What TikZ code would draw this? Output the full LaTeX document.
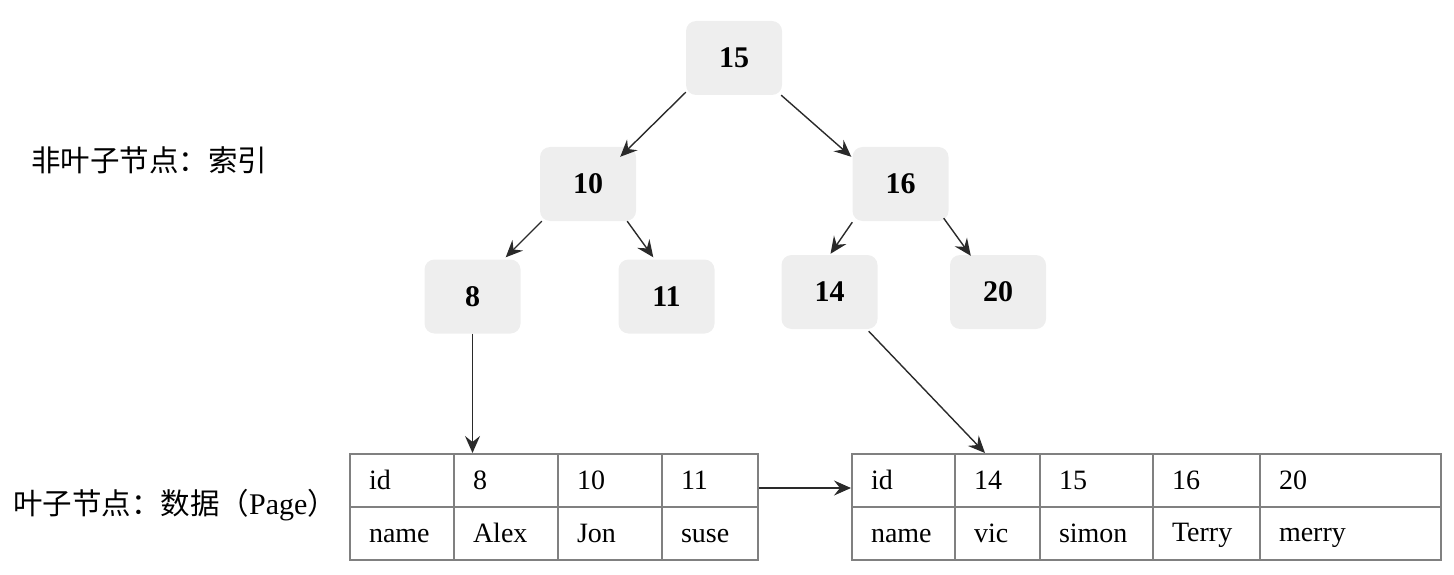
\documentclass[tikz,border=0pt]{standalone}
\usepackage{fontspec}
\setmainfont{Liberation Serif}
\newfontfamily\cjk{Noto Sans CJK SC}
\usetikzlibrary{arrows.meta,calc}
\definecolor{nodefill}{HTML}{EEEEEE}
\definecolor{gridcol}{HTML}{808080}
\definecolor{arrowcol}{HTML}{2A2A2A}
\tikzset{
  treenode/.style={fill=nodefill, rounded corners=10pt, minimum width=96pt, minimum height=74pt, inner sep=0pt,
    font=\bfseries\fontsize{30}{30}\selectfont},
  cellbox/.style={draw=gridcol, line width=2pt, anchor=north west, inner xsep=19pt, inner ysep=0pt,
    minimum height=53pt, align=left, font=\fontsize{28}{28}\selectfont},
  conn/.style={draw=arrowcol, line width=1.4pt, arrows={-Stealth[length=17pt 0, width=15pt 0, inset=6pt 0]}},
  sidelabel/.style={anchor=west, inner sep=0pt, font=\cjk\fontsize{29.5}{29.5}\selectfont}
}
\newcommand{\cellnode}[5]{\node[cellbox, text width=#4-38pt] (#1) at (#2,#3) {\rule[-4pt]{0pt}{26pt}#5};}
\begin{document}
\begin{tikzpicture}[x=1pt,y=-1pt]
\useasboundingbox (0,0) rectangle (1454,575);
% side labels
\node[sidelabel] (lab1) at (31,160) {非叶子节点：索引};
\node[sidelabel] (lab2) at (13,505) {叶子节点：数据（{\rmfamily\fontsize{30}{30}\selectfont Page}）};
% tree nodes
\node[treenode] (n15) at (734,58) {15};
\node[treenode] (n10) at (588,184) {10};
\node[treenode] (n16) at (900.5,184) {16};
\node[treenode] (n8) at (472.5,296.5) {8};
\node[treenode] (n11) at (666.5,296.5) {11};
\node[treenode] (n14) at (829.5,292) {14};
\node[treenode] (n20) at (998,292) {20};
% table 1
\cellnode{a1}{349}{453}{104}{id}
\cellnode{a2}{453}{453}{104}{8}
\cellnode{a3}{557}{453}{104}{10}
\cellnode{a4}{661}{453}{96}{11}
\cellnode{b1}{349}{506}{104}{name}
\cellnode{b2}{453}{506}{104}{Alex}
\cellnode{b3}{557}{506}{104}{Jon}
\cellnode{b4}{661}{506}{96}{suse}
% table 2
\cellnode{c1}{851}{453}{103}{id}
\cellnode{c2}{954}{453}{85}{14}
\cellnode{c3}{1039}{453}{113}{15}
\cellnode{c4}{1152}{453}{107}{16}
\cellnode{c5}{1259}{453}{181}{20}
\cellnode{d1}{851}{506}{103}{name}
\cellnode{d2}{954}{506}{85}{vic}
\cellnode{d3}{1039}{506}{113}{simon}
\cellnode{d4}{1152}{506}{107}{Terry}
\cellnode{d5}{1259}{506}{181}{merry}
% connectors
\draw[conn] ($(n15.south west)+(0,-3)$) -- ($(n10.north east)+(-16,10)$);
\draw[conn] ($(n15.south east)+(-1,0)$) -- ($(n16.north west)+(-1,10)$);
\draw[conn] ($(n10.south west)+(2,0)$) -- ($(n8.north east)+(-15,-2)$);
\draw[conn] ($(n10.south east)+(-9,0)$) -- ($(n11.north west)+(35,-2)$);
\draw[conn] ($(n16.south west)+(0,1)$) -- ($(n14.north)+(1,-1)$);
\draw[conn] ($(n16.south east)+(-5,-3)$) -- ($(n20.north west)+(21,1)$);
\draw[conn] (n8.south) -- (n8.south |- a2.north);
\draw[conn] ($(n14.south east)+(-9,2)$) -- ($(c2.north west)+(31,0)$);
\draw[conn] ($(a4.north east)+(0,35)$) -- ($(c1.north west)+(0,35)$);
\end{tikzpicture}
\end{document}
